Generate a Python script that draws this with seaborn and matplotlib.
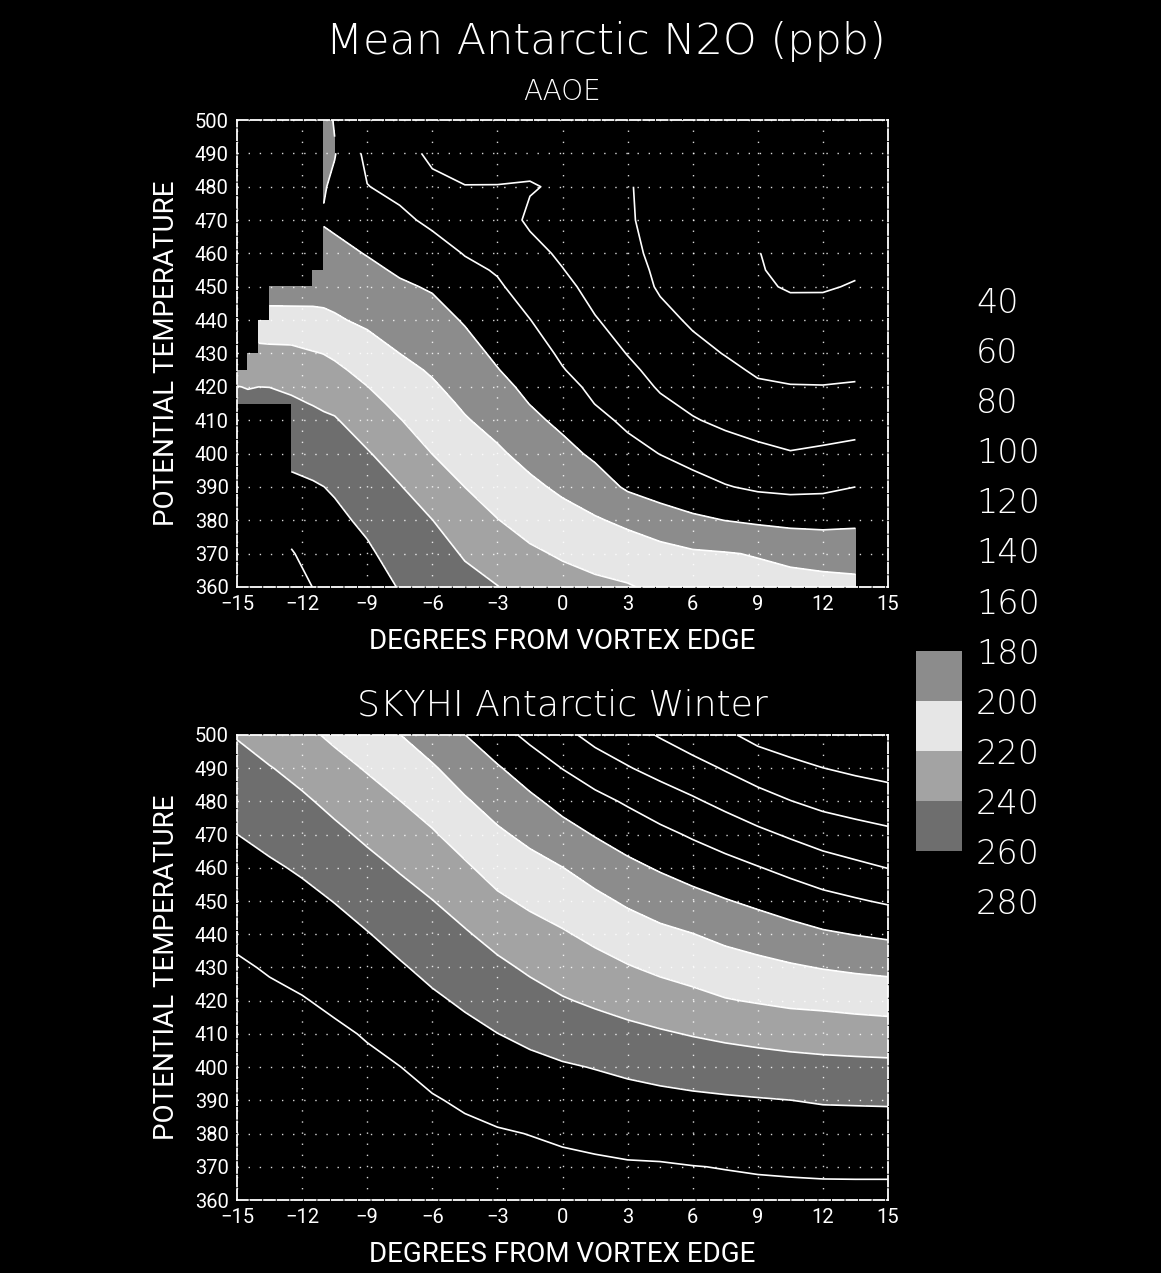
import numpy as np
import matplotlib
matplotlib.use("Agg")
import matplotlib.pyplot as plt
from matplotlib.colors import ListedColormap, BoundaryNorm
from matplotlib.cm import ScalarMappable
import seaborn as sns

nan = float("nan")

# Contour levels (ppb) and fill colour of each 20 ppb band
LEVELS = [40, 60, 80, 100, 120, 140, 160, 180, 200, 220, 240, 260, 280]
BAND_COLORS = ["black"] * 7 + ["#8c8c8c", "#e6e6e6", "#a3a3a3", "#6e6e6e"] + ["black"]

# AAOE aircraft composite: N2O (ppb), rows = potential temperature, cols = degrees from vortex edge
DEG_AAOE = [-15, -14.5, -14, -13.5, -12.5, -11.5, -11, -10.5, -9, -7.5, -6, -4.5,
            -3, -1.5, 0, 1.5, 3, 4.5, 6, 7.5, 9, 10.5, 12, 13.5]
THETA_AAOE = [360, 370, 380, 390, 400, 410, 415, 420, 425, 430, 440, 450, 455, 460,
              470, 480, 490, 500]
N2O_AAOE = [
    [nan, nan, nan, nan, 289, 279.7, 275.8, 274, 267.6, 259.1, 251.6, 244.5, 240.5, 231.4, 227, 223.8, 221.4, 216, 210, 208.5, 207, 206, 205.4, 204.5],
    [nan, nan, nan, nan, 281.3, 273.7, 270.5, 269, 262.7, 253, 245.9, 238.7, 230.2, 222.8, 218, 213.8, 209.8, 206.4, 202.4, 201, 198.9, 195.9, 193.7, 192.7],
    [nan, nan, nan, nan, 272.5, 267.7, 265.3, 263.9, 256.5, 247, 240.2, 229.3, 220.5, 213.5, 207.2, 201.8, 196.2, 188.7, 183.4, 179.8, 177.1, 175, 174.5, 176],
    [nan, nan, nan, nan, 264, 261.6, 260.1, 258.1, 249, 240.9, 230.1, 219.9, 211.5, 203.9, 196.5, 189, 177.4, 171.8, 166.9, 161.1, 157.1, 155.5, 156.4, 160],
    [nan, nan, nan, nan, 255.3, 253.3, 251.4, 249.8, 241.4, 231.2, 219.8, 210.6, 202.7, 194.1, 185.9, 176.6, 166.3, 159.6, 153.3, 147.8, 144.1, 140.9, 142.8, 145.3],
    [nan, nan, nan, nan, 246.5, 244.1, 242.6, 241.4, 231.2, 220.7, 211, 201.4, 193.9, 184.4, 175.6, 165.2, 156.3, 148.4, 141.2, 136.5, 132.7, 130.6, 131.4, 132.6],
    [245, 244, 245, 246, 242.2, 239.4, 237.6, 236, 225.8, 215.5, 206.6, 197.4, 189.5, 179.6, 170.7, 159.7, 152, 142.8, 136.7, 132.1, 127.4, 125.6, 125.9, 126.9],
    [240.5, 239.3, 240, 239.8, 237.8, 233.3, 231.7, 229.9, 220.3, 210.4, 202.2, 193.7, 185.1, 175.8, 165.8, 156, 147.7, 138.3, 132.7, 127.8, 122.1, 120.6, 120.4, 121.2],
    [229, 232, 234, 233, 232, 227.3, 225.7, 223.8, 214.2, 205.2, 198.1, 190, 180.7, 171.9, 160.9, 152.2, 143.4, 134.9, 128.6, 123.4, 118, 116.7, 116.7, 117.4],
    [nan, 225, 226, 226, 225.5, 221.2, 219.7, 217.1, 208, 200, 194.2, 186.3, 176.9, 168, 157.3, 148.4, 139.5, 131.5, 124.6, 119.4, 114, 113, 113, 114.1],
    [nan, nan, 206.5, 204.5, 204, 204.3, 203.5, 202, 196.8, 191.2, 186.5, 178.6, 169.6, 160.3, 150.6, 140.9, 134, 124.6, 117.8, 114, 107, 105.6, 105.8, 107.5],
    [nan, nan, nan, 194, 194.5, 193.9, 194, 193, 188.1, 182.4, 178.4, 168.9, 162.2, 152.6, 143.9, 135.2, 128.5, 118.1, 111, 108.5, 102, 98.8, 98.8, 101],
    [nan, nan, nan, nan, nan, 189.8, 190.1, 188.9, 183.7, 177.8, 172.9, 164.1, 158.6, 148.8, 140.5, 132.4, 126, 117, 110, 106.5, 101, 96.8, 96.5, 98.4],
    [nan, nan, nan, nan, nan, nan, 186.2, 184.8, 179.2, 173.2, 167.5, 159.2, 155, 144.9, 137.5, 130, 123.8, 116, 109, 105, 100.5, 95, 94, 96],
    [nan, nan, nan, nan, nan, nan, 178.5, 176.5, 169.6, 163.8, 156.4, 149.8, 147.7, 137.5, 133, 126, 121.2, 116.2, 111, 106, nan, nan, nan, nan],
    [nan, nan, nan, nan, nan, nan, 181.5, 176, 160.5, 155.2, 144.7, 140.3, 140.4, 141, 138, 123, 120.7, 116.8, 113, nan, nan, nan, nan, nan],
    [nan, nan, nan, nan, nan, nan, 187, 181, 155, 148, 136, 135, 134, 135, 134, nan, nan, nan, nan, nan, nan, nan, nan, nan],
    [nan, nan, nan, nan, nan, nan, 185, 179, nan, nan, nan, nan, nan, nan, nan, nan, nan, nan, nan, nan, nan, nan, nan, nan],
]

# SKYHI model Antarctic winter: N2O (ppb)
DEG_SKYHI = [-15, -13.5, -12, -10.5, -9, -7.5, -6, -4.5, -3, -1.5, 0,
             1.5, 3, 4.5, 6, 7.5, 9, 10.5, 12, 13.5, 15]
THETA_SKYHI = [360, 370, 380, 390, 400, 410, 420, 430, 440, 450, 460, 470, 480, 490, 500]
N2O_SKYHI = [
    [296, 296, 296, 295, 294, 292.5, 291, 290, 289, 288, 287, 286, 285, 284.5, 284, 284.1, 284.3, 284, 283.8, 283.8, 283.8],
    [295.5, 295.3, 295, 293.8, 292.5, 290.5, 288.5, 287, 285.5, 284.5, 283.5, 282.5, 281.5, 281.3, 280.3, 279.6, 278.7, 278.2, 277.8, 277.7, 277.7],
    [294.5, 294, 293.5, 291.8, 290, 287.5, 285, 283.2, 281.3, 279.7, 277.6, 275.9, 274.3, 273, 271.8, 270.8, 269.9, 269.1, 268.5, 268.3, 268.2],
    [293, 292.3, 291.5, 289.3, 287, 284, 281.2, 277.9, 274.6, 272.1, 269.6, 267.8, 266, 264.5, 263.2, 262.1, 261.1, 260.1, 258.7, 258.4, 258.1],
    [291, 289.8, 288.5, 285.8, 283.1, 280.2, 275.5, 271.3, 267.4, 264.4, 261.7, 259.4, 256.7, 254.2, 251.9, 250, 248.3, 246.8, 245.5, 244.9, 244.4],
    [288.5, 286.8, 285, 282.5, 278.9, 273.9, 268.9, 264.6, 260.2, 256.1, 251.8, 248.3, 245, 242, 239, 236.3, 234.1, 232.1, 230.9, 229.7, 228.7],
    [285.5, 283.2, 280.9, 277.2, 272.7, 267.8, 262.7, 257.6, 252, 246.8, 241.4, 237.3, 233.2, 229.1, 225.4, 221.1, 218.7, 216.3, 215.2, 213.5, 212.2],
    [282, 278.7, 275.5, 271.4, 266.7, 261.7, 255.6, 249.7, 243.7, 237.3, 231.6, 226.5, 221.2, 216.4, 212.5, 208.4, 205.3, 202.1, 199.2, 197, 195.3],
    [277, 273.2, 269.8, 265.5, 260.8, 254.4, 248, 241.8, 234, 227.1, 221.9, 215.6, 209.4, 204.2, 200.4, 195.4, 191.1, 186.7, 182.4, 179.5, 176.9],
    [271.3, 267.7, 264.2, 259.6, 253.1, 246.6, 240.4, 232.4, 223.2, 216.8, 211.1, 204.4, 197.4, 191.5, 186.2, 181.1, 176.2, 171, 165.8, 161.8, 157.8],
    [265.7, 262.2, 258.1, 251.8, 245.2, 238.6, 231.2, 222.5, 213, 206.3, 200.3, 192.2, 184.6, 178.2, 172.2, 166.6, 160.9, 154.9, 148.8, 144.1, 139.7],
    [260.1, 255.6, 250.4, 243.9, 236.9, 229.3, 221.9, 212.3, 203, 195.4, 187.2, 179, 171.5, 164.7, 157.9, 151.2, 144.3, 137.8, 131.5, 127.3, 123.8],
    [253, 248.2, 242.8, 235.4, 227.8, 220.3, 212, 202, 192.5, 184, 173.9, 165.4, 157.8, 149.6, 142.6, 135, 127.2, 120.5, 115, 111.6, 108.6],
    [246, 240.9, 234.1, 226.2, 218.5, 210, 202, 191.1, 181.8, 170.4, 159.6, 150, 141.2, 133.8, 126.8, 118.5, 110.6, 104.7, 100.2, 96.6, 93.5],
    [239, 230.7, 224.7, 216.4, 208.2, 200.3, 190, 180.2, 167.5, 155.5, 145.3, 134, 127.2, 118.5, 109.4, 103.1, 94.6, 90.2, 85, 83.4, 81.4],
]

X_TICKS = list(range(-15, 16, 3))
Y_TICKS = list(range(360, 501, 10))

sns.set_theme(style="dark", rc={
    "figure.facecolor": "black",
    "axes.facecolor": "black",
    "axes.edgecolor": "white",
    "axes.linewidth": 1.2,
    "text.color": "white",
    "xtick.color": "white",
    "ytick.color": "white",
})
plt.rcParams["font.family"] = ["Roboto", "DejaVu Sans"]
WIDE = ["DejaVu Sans"]

cmap = ListedColormap(BAND_COLORS)
cmap.set_under("black")
cmap.set_over("black")
norm = BoundaryNorm(LEVELS, cmap.N)

W, H = 1161, 1273
fig = plt.figure(figsize=(W / 100, H / 100), dpi=100)
ax_top = fig.add_axes([237 / W, 1 - 587 / H, 651 / W, 467 / H])
ax_bot = fig.add_axes([237 / W, 1 - 1200 / H, 651 / W, 465 / H])
cax = fig.add_axes([916 / W, 1 - 901 / H, 46 / W, 601 / H])


def draw_panel(ax, degrees, theta, n2o):
    z = np.ma.masked_invalid(np.array(n2o, dtype=float))
    ax.contourf(degrees, theta, z, levels=LEVELS, cmap=cmap, norm=norm,
                extend="both", corner_mask=False)
    ax.contour(degrees, theta, z, levels=LEVELS, colors="white",
               linewidths=1.2, corner_mask=False)
    ax.set_xlim(-15, 15)
    ax.set_ylim(360, 500)
    ax.set_xticks(X_TICKS)
    ax.set_yticks(Y_TICKS)
    ax.set_axisbelow(False)
    ax.grid(True, color="white", linestyle=(0, (1, 7)), linewidth=1.0, alpha=0.85)
    ax.tick_params(axis="both", direction="out", length=4, width=1.2,
                   labelsize=14.5, pad=2)
    for sp in ax.spines.values():
        sp.set_visible(True)
        sp.set_color("white")
        sp.set_linewidth(1.3)
        sp.set_linestyle((0, (6, 1.5)))
    ax.set_xlabel("DEGREES FROM VORTEX EDGE", fontsize=20, color="white")
    ax.set_ylabel("POTENTIAL TEMPERATURE", fontsize=20, color="white")
    ax.xaxis.set_label_coords(0.5, -0.088)
    ax.yaxis.set_label_coords(-0.088, 0.5)


draw_panel(ax_top, DEG_AAOE, THETA_AAOE, N2O_AAOE)
draw_panel(ax_bot, DEG_SKYHI, THETA_SKYHI, N2O_SKYHI)

# Titles
fig.text(606 / W, 1 - 42 / H, "Mean Antarctic N2O (ppb)", ha="center", va="center",
         fontsize=31, color="white", fontweight="light", family=WIDE)
fig.text(562 / W, 1 - 92 / H, "AAOE", ha="center", va="center",
         fontsize=20, color="white", fontweight="light", family=WIDE)
fig.text(562 / W, 1 - 705 / H, "SKYHI Antarctic Winter", ha="center", va="center",
         fontsize=26, color="white", fontweight="light", family=WIDE)

# Shading key
cbar = fig.colorbar(ScalarMappable(norm=norm, cmap=cmap), cax=cax, ticks=LEVELS)
cax.invert_yaxis()
cbar.outline.set_visible(False)
cax.tick_params(length=0, pad=10, labelsize=24, colors="white")
for lab in cax.get_yticklabels():
    lab.set_fontweight("light")
    lab.set_family(WIDE)

fig.savefig("out.png", dpi=100, facecolor="black")
